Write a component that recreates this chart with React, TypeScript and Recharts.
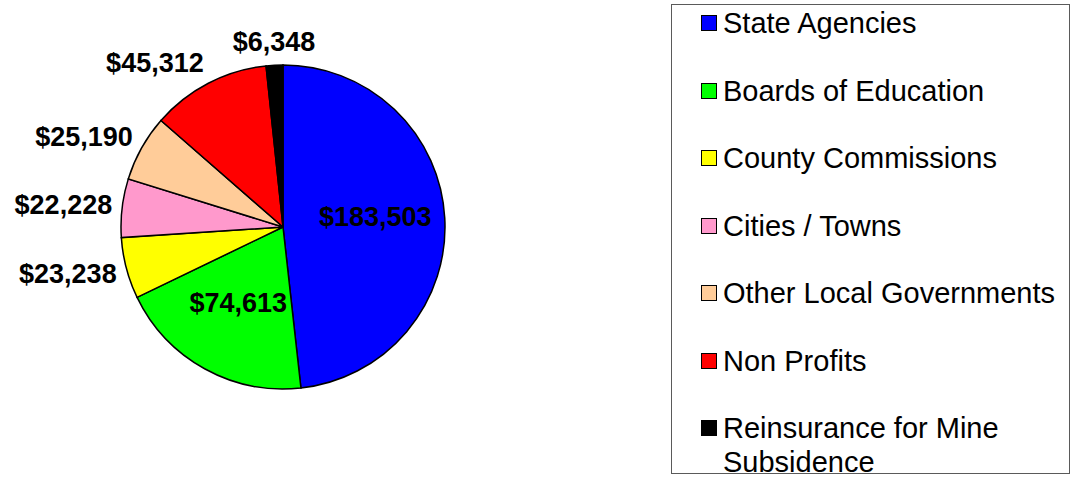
import React from "react";
import { PieChart, Pie, Cell, Legend } from "recharts";

const categories = [
  "State Agencies",
  "Boards of Education",
  "County Commissions",
  "Cities / Towns",
  "Other Local Governments",
  "Non Profits",
  "Reinsurance for Mine Subsidence",
];

const amounts = [183503, 74613, 23238, 22228, 25190, 45312, 6348];

const COLORS = [
  "#0000ff",
  "#00ff00",
  "#ffff00",
  "#ff99cc",
  "#ffcc99",
  "#ff0000",
  "#000000",
];

const data = categories.map((name, i) => ({ name, value: amounts[i] }));
const total = amounts.reduce((a, b) => a + b, 0);

const FONT = "'Liberation Sans', Arial, Helvetica, sans-serif";
const RADIAN = Math.PI / 180;

const renderLabel = (props: any) => {
  const { cx, cy, midAngle, outerRadius, value } = props;
  const share = value / total;
  const text = `$${Number(value).toLocaleString("en-US")}`;
  const cos = Math.cos(-midAngle * RADIAN);
  const sin = Math.sin(-midAngle * RADIAN);

  if (share > 0.15) {
    const r = outerRadius * 0.57;
    return (
      <text
        x={cx + r * cos}
        y={cy + r * sin - 5}
        textAnchor="middle"
        dominantBaseline="central"
        fontFamily={FONT}
        fontWeight="bold"
        fontSize={27}
        fill="#000"
      >
        {text}
      </text>
    );
  }

  const r = outerRadius + 10;
  const x = cx + r * cos;
  const y = cy + r * sin + 13 * sin;
  return (
    <text
      x={x}
      y={y}
      textAnchor={cos < -0.3 ? "end" : cos > 0.3 ? "start" : "middle"}
      dominantBaseline="central"
      fontFamily={FONT}
      fontWeight="bold"
      fontSize={27}
      fill="#000"
    >
      {text}
    </text>
  );
};

const LegendBox = (props: any) => {
  const items = [...(props.payload || [])].sort(
    (a: any, b: any) => categories.indexOf(a.value) - categories.indexOf(b.value)
  );
  return (
    <div
      style={{
        position: "relative",
        width: 399,
        height: 470,
        border: "1.5px solid #5a5a5a",
        boxSizing: "border-box",
        fontFamily: FONT,
        fontSize: 29,
        color: "#000",
      }}
    >
      {items.map((entry: any, i: number) => (
        <div
          key={`leg-${i}`}
          style={{
            position: "absolute",
            left: 29,
            right: 8,
            top: 1 + i * 67.5,
            display: "flex",
            alignItems: "flex-start",
            lineHeight: "34px",
          }}
        >
          <span
            style={{
              display: "inline-block",
              width: 16,
              height: 16,
              marginTop: 9,
              marginRight: 6,
              flex: "0 0 auto",
              boxSizing: "border-box",
              border: "1.5px solid #000",
              background: entry.color,
            }}
          />
          <span>{entry.value}</span>
        </div>
      ))}
    </div>
  );
};

export default function App() {
  return (
    <div style={{ position: "absolute", left: 0, top: 0, background: "#fff" }}>
      <PieChart
        width={1073}
        height={479}
        margin={{ top: 0, right: 0, bottom: 0, left: 0 }}
      >
        <Pie
          data={data}
          dataKey="value"
          nameKey="name"
          cx={283}
          cy={227}
          outerRadius={162}
          startAngle={90}
          endAngle={-270}
          stroke="#000"
          strokeWidth={1.5}
          label={renderLabel}
          labelLine={false}
          legendType="square"
          isAnimationActive={false}
        >
          {data.map((_d, index) => (
            <Cell key={`cell-${index}`} fill={COLORS[index % COLORS.length]} />
          ))}
        </Pie>
        <Legend
          layout="vertical"
          align="right"
          verticalAlign="top"
          content={<LegendBox />}
          wrapperStyle={{ left: 671, top: 4, width: 399, height: 470 }}
        />
      </PieChart>
    </div>
  );
}
